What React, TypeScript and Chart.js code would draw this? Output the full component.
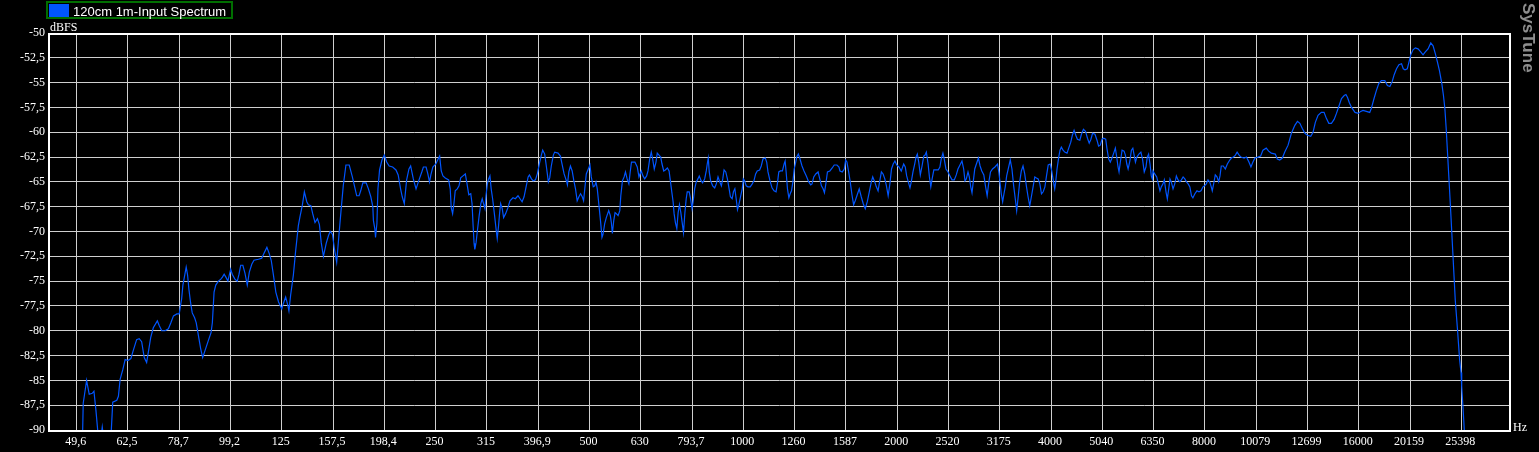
import { useEffect, useRef } from 'react';
import { Chart, registerables } from 'chart.js';

Chart.register(...registerables);

// ---------- data ----------
const seriesLabel = '120cm 1m-Input Spectrum';

const tickFreqs = [
  49.61, 62.5, 78.75, 99.21, 125, 157.49, 198.43, 250, 314.98, 396.85, 500, 629.96, 793.7, 1000,
  1259.9, 1587.4, 2000, 2519.8, 3174.8, 4000, 5039.7, 6349.6, 8000, 10079, 12699, 16000, 20159, 25398,
];
const tickLabels = [
  '49,6', '62,5', '78,7', '99,2', '125', '157,5', '198,4', '250', '315', '396,9', '500', '630', '793,7', '1000',
  '1260', '1587', '2000', '2520', '3175', '4000', '5040', '6350', '8000', '10079', '12699', '16000', '20159', '25398',
];

const yMin = -90;
const yMax = -50;
const yStep = 2.5;
const freqMin = 43.8;
const freqMax = 31630;

// [frequency Hz, level dBFS]
const lowRange: [number, number][] = [
  [50.84, -93], [51.1, -87.3], [51.89, -85], [52.5, -86.4], [53.21, -86.3], [53.63, -86.1], [54.11, -88], [54.54, -90],
  [55.11, -91.5], [55.68, -89.7], [56.11, -91], [57.14, -92], [57.93, -90.5], [58.37, -87.2], [59.45, -87], [59.88, -86.6],
  [60.34, -84.9], [61.09, -83.9], [61.73, -82.9],
  [62.5, -83], [63.35, -82.8], [64.01, -82], [65.0, -80.9], [65.76, -80.8], [66.49, -81.1], [67.27, -82.7], [68.0, -83.2],
  [68.5, -82.2], [69.25, -80.7], [70.07, -79.7], [71.36, -79], [72.0, -79.5], [72.79, -80], [73.89, -80], [75.01, -79.8],
  [75.84, -79.2], [76.74, -78.5], [77.93, -78.3],
  [78.75, -78.3], [79.25, -77.4], [79.61, -76.8], [80.07, -75.4], [80.8, -74.3], [81.27, -73.6], [81.78, -74.4], [82.26, -75.8],
  [82.9, -77.2], [83.51, -78.2], [84.41, -78.7], [85.03, -79.2], [86.07, -80.8], [86.74, -81.8], [87.53, -82.7], [88.45, -82],
  [89.78, -81], [90.89, -80.2], [91.43, -79.2], [92.14, -76.1], [92.85, -75.4], [93.96, -75], [94.99, -74.8], [95.68, -74.6],
  [96.42, -74.3], [97.17, -74.6], [98.06, -75],
  [99.3, -73.8], [100.0, -74.3], [101.2, -74.8], [102.3, -75], [103.1, -74.3], [103.9, -73.4], [104.9, -73.4], [105.9, -74.2],
  [107.0, -75.4], [108.0, -74.1], [109.2, -73.3], [110.3, -72.9], [112.5, -72.8], [114.2, -72.7], [115.4, -72.2], [116.9, -71.6],
  [118.1, -72.2], [119.2, -72.9], [120.4, -74.4], [121.7, -76.1], [123.2, -77.1],
  [125, -77.8], [125.8, -77.3], [127.2, -76.6], [128.4, -77.4], [129.1, -78], [130.1, -76.4], [131.7, -74.4], [133.1, -71.9],
  [134.7, -69.4], [135.7, -68.5], [137.1, -67.4], [138.4, -66], [139.9, -67], [140.9, -67.3], [142.5, -67.4], [143.7, -68.2],
  [145.2, -69.1], [146.8, -68.7], [148.1, -69.3], [149.3, -71.1], [150.8, -72.5], [152.7, -71.2], [154.3, -70.4], [155.5, -70],
  [157.1, -70.3], [158.4, -71.7], [160.1, -73.1], [161.7, -70.4], [163.2, -68], [164.9, -65.4], [166.9, -63.3], [169.4, -63.3],
  [171.8, -64.5], [173.6, -65.5], [175.2, -66.4], [177.1, -66.4], [178.4, -65.9], [180.1, -65.1], [182.8, -65.1], [184.7, -65.7],
  [186.7, -66.5], [188.4, -67.5], [188.9, -68.9], [190.1, -69.7], [190.7, -70.6], [191.9, -69.2], [192.8, -65.7], [194.2, -63.8],
  [196.3, -62.8],
];

const midRange: [number, number][] = [
  [198.4, -62.3], [200.5, -63], [202.8, -63.4], [206.0, -63.5], [209.1, -63.8], [211.2, -64.3], [213.5, -65.7], [215.1, -66.5],
  [217.1, -67.2], [219.4, -64.8], [221.7, -63.7], [223.4, -63.4], [226.1, -64.7], [228.9, -65.7], [232.0, -64.8], [234.9, -64],
  [236.6, -63.5], [239.5, -63.5], [241.4, -64.2], [243.2, -65], [244.7, -64.3], [246.9, -63.5],
  [250.3, -63.2], [252.3, -62.8], [254.6, -62.4], [256.4, -63.9], [258.4, -64.4], [261.1, -64.6], [265.1, -64.8], [267.0, -65.7],
  [268.2, -67.6], [269.9, -68.2], [271.5, -67.2], [273.1, -65.9], [275.6, -65.7], [277.8, -65.4], [279.9, -64.6], [282.8, -64.4],
  [285.8, -64.2], [288.0, -65.2], [290.3, -66.3], [292.9, -66.2], [294.6, -67.2], [296.0, -69.4], [297.3, -71.2], [298.3, -71.8],
  [300.0, -71.1], [301.8, -69.9], [304.2, -68.4], [306.5, -67.2], [308.4, -66.7], [310.2, -67.2], [312.2, -67.7], [313.7, -66.4],
  [315.6, -65.2], [317.4, -64.7], [319.3, -64.4], [321.1, -65.7], [323.2, -66.7], [326.1, -68.4], [328.5, -69.9], [330.0, -70.7],
  [332.0, -69.4], [333.6, -68.1], [335.1, -67.2], [337.5, -67.7], [339.6, -68.6], [342.7, -68.2], [346.3, -67.6], [349.5, -66.9],
  [354.3, -66.6], [358.0, -66.7], [362.4, -66.4], [365.7, -66.7], [369.1, -67], [372.4, -66.5], [375.8, -65.5], [379.3, -64.5],
  [381.5, -64.3], [385.0, -64.7], [388.0, -64.9], [392.0, -64.8], [395.3, -64.2],
  [399.6, -63], [402.5, -62.3], [405.0, -61.8], [408.7, -62.2], [412.4, -63.7], [415.4, -65], [418.0, -64.6], [421.0, -63.4],
  [424.9, -62.3], [427.5, -62], [434.0, -62.1], [438.6, -62.4], [441.9, -63.2], [446.0, -64.2], [450.7, -64.9], [452.7, -65.3],
  [455.6, -64], [458.9, -63.4], [462.5, -63.9], [466.1, -64.9], [469.5, -65.7], [473.1, -66.9], [476.8, -66.5], [480.3, -66.2],
  [484.0, -66.5], [486.9, -66.9], [490.0, -65.5], [492.9, -64.2], [497.4, -63.7],
  [501.1, -63.3], [504.1, -64.5], [508.6, -65.5], [511.9, -65.4], [514.9, -65], [517.9, -65.7], [521.9, -67.4], [525.9, -69.1],
  [529.0, -70.6], [531.4, -70.3], [535.5, -69.2], [539.4, -68.6], [545.3, -67.9], [549.3, -68.4], [551.8, -69.1], [554.3, -70.2],
  [557.8, -68.9], [561.1, -68.1], [564.4, -68.2], [568.8, -68.4], [573.2, -67.9], [575.8, -66.4], [580.0, -64.9], [584.5, -64.5],
  [588.0, -64], [592.5, -64.7], [597.1, -65.2], [600.7, -64], [604.2, -63], [613.6, -63], [620.1, -63.5], [624.9, -64.5],
  [627.9, -64.2], [631.4, -63.9], [636.3, -64.4], [641.2, -64.7], [646.9, -64.4], [650.8, -63.9], [655.8, -62.7], [660.6, -62],
  [664.7, -62.7], [669.5, -63.7], [674.7, -63], [678.6, -62.1], [683.9, -62.3], [689.2, -62.5], [693.3, -63.2], [698.7, -63.9],
  [703.7, -63.8], [710.2, -63.6], [715.7, -63.9], [719.9, -64.9], [724.5, -66], [728.8, -67], [732.1, -68.2], [736.4, -69.1],
  [741.1, -69.7], [745.5, -68.1], [750.0, -67.3], [754.7, -68.1], [759.2, -69.1], [763.7, -70.1], [768.6, -68.1], [773.1, -66.7],
  [776.7, -66], [783.7, -66], [788.4, -66.7],
  [793.7, -67.7], [798.0, -66.9], [803.1, -65.7], [808.9, -65], [815.0, -64.7], [819.9, -64.4], [827.3, -64.9], [832.5, -65.1],
  [840.1, -64.7], [846.2, -63.9], [850.0, -63.2], [853.9, -62.6], [857.7, -64], [863.1, -64.9], [871.1, -65.4], [879.0, -65.6],
  [885.4, -65.2], [892.3, -64.5], [899.2, -65], [905.8, -65.4], [911.5, -64.7], [916.9, -63.8], [924.0, -64], [930.8, -64.7],
  [938.0, -65.7], [943.5, -66.5], [950.9, -66.7], [956.5, -66], [962.6, -65.7], [968.3, -66.7], [974.0, -67.8], [980.2, -67.3],
  [987.4, -66.5], [995.1, -65.7],
  [1000, -64.7], [1005.9, -64.9], [1013.1, -65.4], [1020.9, -65.5], [1031.6, -65.5], [1040.9, -65.2], [1048.9, -64.9], [1057.0, -64.2],
  [1064.7, -63.9], [1076.3, -63.8], [1084.1, -63.4], [1092.5, -62.7], [1104.0, -62.6], [1111.0, -63], [1117.6, -64], [1127.8, -64.9],
  [1138.0, -65.6], [1148.4, -65.9], [1158.9, -66], [1165.8, -65.2], [1173.2, -64], [1181.8, -63.9], [1192.6, -63.9], [1201.8, -63.2],
  [1207.3, -62.9], [1212.8, -64], [1220.0, -65.7], [1227.8, -66.6], [1235.0, -66.2], [1242.4, -65.9], [1250.3, -65], [1257.7, -63.7],
  [1264.0, -63.2], [1272.0, -62.5], [1281.2, -62.2], [1291.0, -62.7], [1302.7, -63.4], [1314.4, -63.9], [1328.2, -64.4], [1342.7, -65],
  [1354.9, -65.3], [1362.8, -65.2], [1373.4, -64.5], [1386.0, -64.2], [1400.5, -64], [1411.3, -64.7], [1421.7, -65.4], [1432.6, -65.7],
  [1441.1, -66.1], [1450.3, -65.2], [1460.8, -64], [1476.8, -63.9], [1492.5, -63.6], [1506.1, -63.3], [1524.7, -63.3], [1538.6, -63.5],
  [1545.6, -63.9], [1561.9, -64], [1576.0, -63.7], [1585.5, -62.8],
  [1594.9, -63], [1607.2, -64], [1618.7, -65], [1631.3, -66.3], [1643.7, -67.3], [1655.6, -66.9], [1670.6, -66.3], [1685.7, -65.7],
  [1701.1, -66.5], [1716.5, -67.2], [1732.2, -67.7], [1748.1, -67], [1764.0, -66], [1780.1, -65], [1791.4, -64.5], [1807.7, -65],
  [1820.9, -65.5], [1835.0, -65.9], [1849.2, -64.9], [1862.8, -64], [1877.1, -64.2], [1891.7, -64.7], [1905.5, -65.4], [1920.4, -66.4],
  [1935.4, -65.2], [1949.5, -63.7], [1964.5, -63.2], [1979.8, -62.9],
];

const highRange: [number, number][] = [
  [1995.5, -63.3], [2016.2, -63.5], [2037.2, -63.9], [2059.4, -63.2], [2074.2, -63.5], [2087.4, -64.4], [2102.6, -65], [2118.8, -65.6],
  [2131.2, -65], [2147.6, -64], [2164.2, -63.2], [2177.0, -62.5], [2190.0, -62.2], [2204.0, -63], [2220.0, -64.3], [2237.2, -63.4],
  [2254.6, -62.4], [2268.0, -62.3], [2281.2, -62], [2299.0, -63.2], [2312.6, -64.5], [2327.2, -65.5], [2341.2, -64.7], [2359.2, -63.8],
  [2380.8, -63.8], [2405.8, -63.8], [2424.6, -63.5], [2439.0, -62.7], [2457.8, -62.1], [2472.4, -62.7], [2491.6, -63.7],
  [2515, -64], [2537.1, -64.4], [2560.1, -64.8], [2586.8, -64.8], [2610.0, -64.3], [2630.1, -63.7], [2654.1, -63.3], [2678.0, -62.9],
  [2698.7, -63.7], [2714.5, -64.9], [2730.7, -64.7], [2751.8, -64], [2768.2, -64.5], [2785.9, -65.5], [2802.0, -66.1], [2818.9, -64.9],
  [2836.8, -63.7], [2857.7, -63.2], [2883.6, -62.6], [2905.8, -63.4], [2928.2, -63.9], [2955.2, -64.3], [2976.6, -65.4], [2999.8, -66.4],
  [3023.0, -65], [3045.2, -64], [3073.1, -63.7], [3106.7, -63.5], [3143.7, -63.2], [3163.6, -64.1],
  [3178, -65], [3196.6, -66.2], [3216.6, -67], [3235.6, -66.2], [3254.7, -65.5], [3275.3, -64.4], [3298.8, -63.7], [3329.0, -62.8],
  [3354.4, -63.7], [3380.4, -65.4], [3404.9, -66.7], [3426.5, -67.9], [3446.8, -66.7], [3473.5, -65], [3498.9, -63.9], [3525.8, -63.4],
  [3553.1, -64.2], [3579.2, -65.4], [3606.8, -66.5], [3634.7, -67.4], [3661.1, -66.5], [3689.4, -65.5], [3718.2, -64.5], [3745.2, -64.6],
  [3774.4, -64.7], [3803.7, -65.2], [3831.6, -66.2], [3861.1, -66], [3891.3, -65.5], [3919.5, -64.4], [3949.7, -63.3], [3985.9, -63.2],
  [4012.8, -63.9], [4041.6, -64.9], [4067.2, -65.7], [4085.6, -65], [4109.6, -63.7], [4141.2, -62.5], [4165.6, -61.8], [4190.0, -61.5],
  [4222.4, -61.8], [4255.2, -62], [4299.2, -62.1], [4332.0, -61.6], [4372.0, -61], [4404.0, -60.3], [4438.0, -59.8], [4472.4, -60.3],
  [4504.8, -60.7], [4554.4, -60.8], [4587.6, -60.2], [4629.2, -59.7], [4671.6, -59.9], [4714.0, -60.6], [4750.8, -61.1], [4787.6, -60.7],
  [4822.8, -60.1], [4875.6, -60.2], [4920.4, -60.8], [4956.0, -61.4], [4994.4, -61.3], [5033.2, -60.7],
  [5071.8, -60.6], [5117.6, -60.7], [5147.9, -61.7], [5187.2, -62.7], [5225.0, -63], [5264.8, -62.6], [5305.6, -62.1], [5344.4, -61.6],
  [5378.2, -62.5], [5410.0, -63.5], [5434.1, -64], [5466.4, -63], [5508.7, -61.8], [5559.1, -61.9], [5591.9, -62.3], [5627.7, -63.2],
  [5660.9, -63.7], [5704.8, -62.9], [5746.1, -61.8], [5782.9, -61.6], [5816.7, -62.3], [5851.4, -63], [5888.7, -62.5], [5942.2, -62.2],
  [5996.6, -62], [6040.4, -62.7], [6087.8, -64], [6134.7, -63.5], [6171.0, -62.5], [6207.8, -62.2], [6247.6, -63.2], [6284.4, -64.4],
  [6313.1, -64.7], [6332.9, -63.9], [6381.8, -64.2], [6439.5, -64.5], [6485.9, -65.2], [6535.4, -65.9], [6574.2, -65.5], [6624.3, -65.2],
  [6663.7, -64.8], [6714.5, -66], [6755.1, -66.7], [6797.7, -65.7], [6837.0, -64.7], [6877.1, -65], [6931.0, -65.7], [6985.0, -65.2],
  [7035.8, -64.4], [7090.4, -64.8], [7145.0, -65], [7197.1, -64.8], [7253.0, -64.5], [7308.9, -64.7], [7362.2, -65], [7419.3, -65.2],
  [7477.1, -65.5], [7531.7, -66.4], [7580.0, -66.6], [7648.6, -66.2], [7719.1, -65.9], [7789.5, -66], [7860.7, -65.9], [7932.4, -65.5],
  [7990, -65.4], [8050.4, -65.2], [8112.8, -64.8], [8175.2, -65], [8233.6, -65.5], [8271.2, -65.9], [8323.2, -65.2], [8384.0, -64.3],
  [8448.0, -64.5], [8513.6, -65], [8564.0, -64.4], [8613.6, -63.4], [8692.0, -63.4], [8772.0, -63.7], [8852.0, -63.2], [8948.8, -62.8],
  [9014.4, -62.6], [9096.0, -62.5], [9179.2, -62.3], [9250.4, -62], [9334.4, -62.3], [9407.2, -62.5], [9549.6, -62.6], [9649.6, -62.5],
  [9756.0, -63], [9844.8, -63.5], [9934.4, -63], [10024.8, -62.6],
  [10160.6, -62.5], [10285.6, -62.4], [10392.5, -61.8], [10547.7, -61.6], [10662.6, -61.9], [10789.6, -62.1], [10986.1, -62.2],
  [11086.9, -62.7], [11206.8, -62.8], [11340.9, -62.6], [11464.9, -62], [11638.2, -61.3], [11813.6, -60.1], [11998.0, -59.3],
  [12140.2, -58.9], [12274.2, -59.1], [12403.2, -59.6], [12556.4, -60.1],
  [12699, -60.3], [12889.5, -60.4], [13022.8, -60], [13158.7, -59], [13320.0, -58.3], [13520.6, -58], [13685.7, -58], [13829.2, -58.6],
  [13981.6, -59.1], [14146.7, -59.1], [14321.9, -58.7], [14471.8, -58.1], [14649.6, -57.3], [14804.5, -56.6], [14986.1, -56.3],
  [15103.0, -56.2], [15213.4, -56.5], [15331.5, -57], [15492.8, -57.5], [15734.1, -58], [15971.6, -58.1],
  [16144, -57.9], [16312, -57.8], [16556.8, -57.9], [16812.8, -58], [16936, -57.6], [17142.4, -56.6], [17321.6, -55.8], [17512, -55.1],
  [17720, -54.8], [17995.2, -54.8], [18208, -55.3], [18408, -55.4], [18601.6, -54.9], [18771.2, -54.2], [18969.6, -53.6], [19176, -53.2],
  [19404.8, -53.1], [19555.2, -53.6], [19707.2, -53.7], [19913.6, -53.6], [20068.8, -52.9],
  [20223.5, -52.2], [20433.2, -51.7], [20646.8, -51.5], [20898.8, -51.6], [21154.9, -51.9], [21376.6, -52.2], [21598.4, -51.9],
  [21864.5, -51.6], [22134.6, -51], [22366.4, -51.3], [22600.3, -52.1], [22805.9, -52.9], [23015.5, -53.8], [23265.5, -55.1],
  [23436.9, -56.3], [23586, -57.6], [23725, -59.6], [24160.6, -67], [24717, -76.9], [24977, -80], [25204.8, -82.9], [25366, -84.2],
  [25443.7, -85.6], [25626.6, -88.2], [25743, -90], [25941, -94],
];

// ---------- styles ----------
const BG = '#000000';
const GRID = '#cfcfcf';
const FRAME = '#ffffff';
const TEXT = '#ffffff';
const LINE = 'rgb(0, 85, 255)';
const LEGEND_BORDER = '#006e00';
const BRAND = '#8e8e8e';
const SERIF = '"Liberation Serif", "Times New Roman", serif';
const SANS = '"Liberation Sans", Arial, sans-serif';

export default function App() {
  const ref = useRef<HTMLCanvasElement | null>(null);

  useEffect(() => {
    document.body.style.margin = '0';
    document.body.style.background = BG;
    const canvas = ref.current;
    if (!canvas) return;

    const points = [...lowRange, ...midRange, ...highRange].map(([f, db]) => ({ x: f, y: db }));

    const overlay = {
      id: 'overlay',
      beforeDraw(chart: any) {
        const { ctx, width, height } = chart;
        ctx.save();
        ctx.fillStyle = BG;
        ctx.fillRect(0, 0, width, height);
        ctx.restore();
      },
      afterDraw(chart: any) {
        const { ctx, chartArea } = chart;
        const { left, right, top, bottom } = chartArea;
        ctx.save();
        // plot frame
        ctx.strokeStyle = FRAME;
        ctx.lineWidth = 2;
        ctx.strokeRect(left, top + 1, right - left, bottom - top);

        // axis unit labels
        ctx.fillStyle = TEXT;
        ctx.font = `12px ${SERIF}`;
        ctx.textAlign = 'left';
        ctx.textBaseline = 'alphabetic';
        ctx.fillText('dBFS', left + 1, top - 2);
        ctx.fillText('Hz', right + 3, bottom + 0.5);

        // legend
        ctx.strokeStyle = LEGEND_BORDER;
        ctx.lineWidth = 2;
        ctx.strokeRect(47, 2, 185, 16);
        ctx.fillStyle = LINE;
        ctx.fillRect(49, 4, 20, 13);
        ctx.fillStyle = TEXT;
        ctx.font = `13px ${SANS}`;
        ctx.fillText(chart.data.datasets[0].label, 73, 15.5);

        // brand
        ctx.translate(1523, 3);
        ctx.rotate(Math.PI / 2);
        ctx.fillStyle = BRAND;
        ctx.font = `bold 17px ${SANS}`;
        ctx.textBaseline = 'alphabetic';
        ctx.fillText('SysTune', 0, 0);
        ctx.restore();
      },
    };

    const chart = new Chart(canvas, {
      type: 'line',
      data: {
        datasets: [
          {
            label: seriesLabel,
            data: points,
            borderColor: LINE,
            backgroundColor: LINE,
            borderWidth: 1.2,
            pointRadius: 0,
            tension: 0,
            fill: false,
          },
        ],
      },
      options: {
        responsive: false,
        animation: false,
        devicePixelRatio: 1,
        layout: { padding: { left: 0, right: 29, top: 33, bottom: 0 }, autoPadding: false },
        plugins: { legend: { display: false }, tooltip: { enabled: false } },
        scales: {
          x: {
            type: 'logarithmic',
            min: freqMin,
            max: freqMax,
            bounds: 'data',
            afterBuildTicks: (scale: any) => {
              scale.ticks = tickFreqs.map((v) => ({ value: v }));
            },
            afterFit: (scale: any) => {
              scale.height = 22;
            },
            grid: { color: GRID, lineWidth: 1, drawTicks: false },
            border: { display: false },
            ticks: {
              autoSkip: false,
              maxRotation: 0,
              minRotation: 0,
              padding: 5,
              labelOffset: -1,
              color: TEXT,
              font: { family: SERIF, size: 12 },
              callback: (_v: any, i: number) => tickLabels[i],
            },
          },
          y: {
            type: 'linear',
            min: yMin,
            max: yMax,
            afterFit: (scale: any) => {
              scale.width = 49;
            },
            grid: { color: GRID, lineWidth: 1, drawTicks: false },
            border: { display: false },
            ticks: {
              stepSize: yStep,
              padding: 4,
              color: TEXT,
              font: { family: SERIF, size: 12 },
              callback: (v: any) => String(v).replace('.', ','),
            },
          },
        },
      } as any,
      plugins: [overlay],
    });

    return () => chart.destroy();
  }, []);

  return (
    <div style={{ position: 'absolute', left: 0, top: 0, width: 1539, height: 452, background: BG }}>
      <canvas ref={ref} width={1539} height={452} style={{ display: 'block', width: 1539, height: 452 }} />
    </div>
  );
}
